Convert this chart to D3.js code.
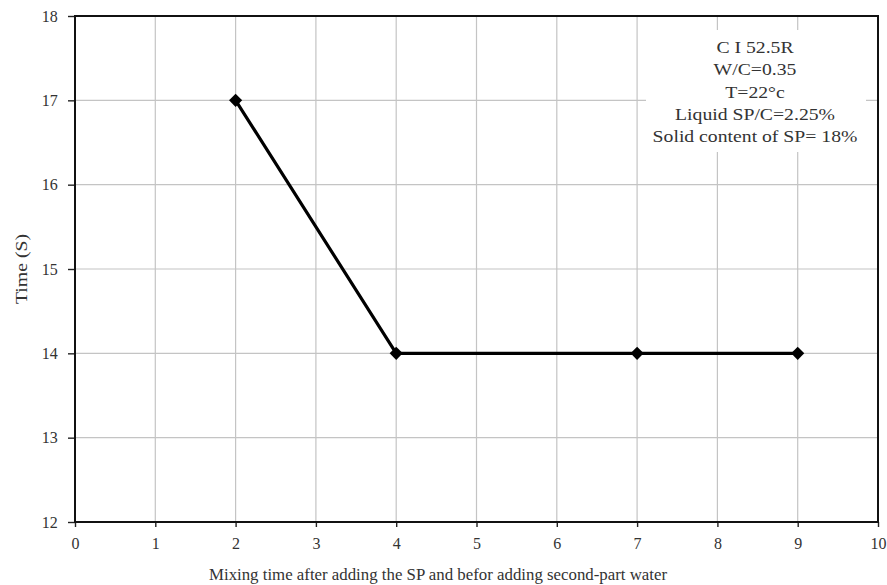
<!DOCTYPE html>
<html>
<head>
<meta charset="utf-8">
<script src="https://cdn.jsdelivr.net/npm/d3@7/dist/d3.min.js"></script>
<style>
  body { margin: 0; background: #fff; }
  svg text { font-family: "Liberation Serif", "Times New Roman", serif; fill: #333; }
</style>
</head>
<body>
<svg id="chart" width="887" height="585"></svg>
<script>
// Mixing time (min) vs. time (s)
const mixingTime = [2, 4, 7, 9];
const timeValues = [17, 14, 14, 14];
const xTicks = [0, 1, 2, 3, 4, 5, 6, 7, 8, 9, 10];
const yTicks = [12, 13, 14, 15, 16, 17, 18];
const noteLines = ["C I 52.5R", "W/C=0.35", "T=22°c", "Liquid  SP/C=2.25%", "Solid content of SP= 18%"];

const svg = d3.select("#chart");
const plotL = 75, plotR = 878, plotT = 16, plotB = 522;

const x = d3.scaleLinear().domain([0, 10]).range([plotL, plotR]);
const y = d3.scaleLinear().domain([12, 18]).range([plotB, plotT]);

// Gridlines
svg.append("g").selectAll("line").data(xTicks.slice(1, -1)).join("line")
  .attr("x1", d => x(d)).attr("x2", d => x(d)).attr("y1", plotT).attr("y2", plotB)
  .attr("stroke", "#c4c4c4").attr("stroke-width", 1.2);
svg.append("g").selectAll("line").data(yTicks.slice(1, -1)).join("line")
  .attr("x1", plotL).attr("x2", plotR).attr("y1", d => y(d)).attr("y2", d => y(d))
  .attr("stroke", "#c4c4c4").attr("stroke-width", 1.2);

// Annotation box (white background over the grid)
const noteG = svg.append("g");
noteG.append("rect").attr("x", 646).attr("y", 30).attr("width", 220).attr("height", 122).attr("fill", "#fff");
const noteText = noteG.append("g").attr("transform", "translate(755,0)");
noteText.selectAll("text").data(noteLines).join("text")
  .attr("x", 0).attr("y", (d, i) => 53 + i * 22.3)
  .attr("text-anchor", "middle").attr("font-size", 16).text(d => d);
// widen the note lines slightly so the longest spans the box
const longest = noteText.selectAll("text").nodes()[4].getComputedTextLength();
noteText.attr("transform", `translate(755,0) scale(${205 / longest},1)`);

// Axes
const xAxis = d3.axisBottom(x).tickValues(xTicks).tickSize(5).tickFormat(d3.format("d"));
const yAxis = d3.axisLeft(y).tickValues(yTicks).tickSize(7).tickFormat(d3.format("d"));

const gx = svg.append("g").attr("transform", `translate(0,${plotB})`).call(xAxis);
const gy = svg.append("g").attr("transform", `translate(${plotL},0)`).call(yAxis);
[gx, gy].forEach(g => {
  g.select(".domain").remove();
  g.selectAll(".tick line").attr("stroke", "#222").attr("stroke-width", 1.4);
  g.selectAll(".tick text").attr("font-size", 16).attr("fill", "#444");
});
gx.selectAll(".tick text").attr("dy", "1.2em");
gy.selectAll(".tick text").attr("dx", "-0.45em");

// Frame
svg.append("rect").attr("x", plotL).attr("y", plotT).attr("width", plotR - plotL).attr("height", plotB - plotT)
  .attr("fill", "none").attr("stroke", "#111").attr("stroke-width", 2);

// Data line
const pts = mixingTime.map((m, i) => [m, timeValues[i]]);
svg.append("path").datum(pts)
  .attr("fill", "none").attr("stroke", "#000").attr("stroke-width", 3.2)
  .attr("d", d3.line().x(d => x(d[0])).y(d => y(d[1])));

svg.append("g").selectAll("path").data(pts).join("path")
  .attr("d", d3.symbol().type(d3.symbolDiamond2).size(110))
  .attr("transform", d => `translate(${x(d[0])},${y(d[1])})`)
  .attr("fill", "#000");

// Axis titles
svg.append("text").attr("x", 438).attr("y", 580)
  .attr("text-anchor", "middle").attr("font-size", 16.5).attr("fill", "#333")
  .attr("textLength", 458).attr("lengthAdjust", "spacingAndGlyphs")
  .text("Mixing  time  after adding the SP and befor adding second-part water");
svg.append("text").attr("transform", `translate(27,269) rotate(-90)`)
  .attr("text-anchor", "middle").attr("font-size", 16).attr("fill", "#333")
  .attr("textLength", 70).attr("lengthAdjust", "spacingAndGlyphs")
  .text("Time (S)");
</script>
</body>
</html>
